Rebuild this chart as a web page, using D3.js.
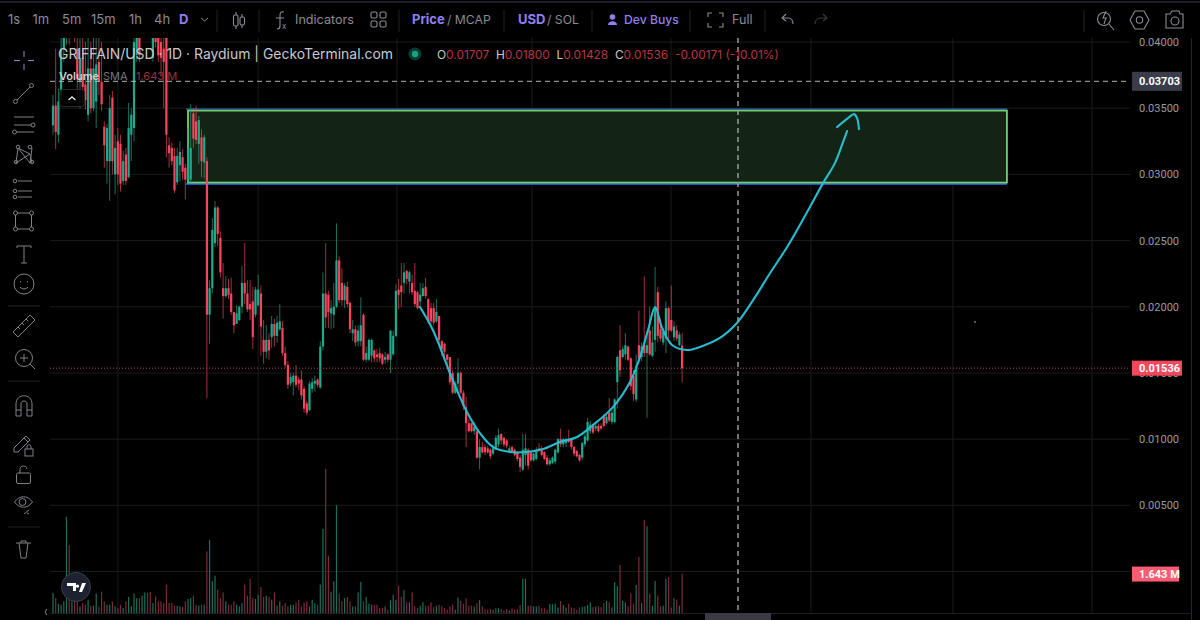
<!DOCTYPE html>
<html><head><meta charset="utf-8">
<script src="https://cdnjs.cloudflare.com/ajax/libs/d3/7.8.5/d3.min.js"></script>
<style>html,body{margin:0;padding:0;background:#000;overflow:hidden}svg{display:block}text{font-family:Inter,"Noto Sans",sans-serif}</style>
</head><body><svg id="c" width="1200" height="620"></svg>
<script>
// prices are in thousandths of a USD, volumes in millions
const opens=[33.7,35.2,33,36,39.5,41,43,41,43,39.5,
37,38.8,36.8,34.5,38,35,35.5,38.5,37,33.6,
31,31,35.8,30,32.5,32.3,29.5,31.5,29.8,33,
33.5,39,41,41.5,43,44.5,43.5,38.8,41,41,
40,39.5,41,32.2,32,31.4,29.4,30.7,31.3,30.5,
29.6,29.6,34.6,34,32.3,32.8,30.9,31,19.4,21.4,
24.8,27.5,25.2,21.4,20.8,21.4,21,19.6,18.7,19,
20,21.8,21,20.2,20.4,19.4,20.1,21,17.5,16.6,
17.5,17.7,18.7,17.8,18.3,18.4,16.5,15.6,14.2,14.3,
14.8,14.5,14.5,13.8,12.7,12.2,13.8,14.2,14.5,13.9,
17,21,20.9,19.5,19.4,20,23.5,21.8,20.5,21.5,
20.3,18,18.3,17.4,17.4,19.4,16,16,16.3,16.7,
16.4,16.5,16.4,16,16.4,16,16.4,17.8,21.3,21.6,
21.8,22.7,21.9,21.8,21.2,21.1,20.4,20.8,21.5,20.6,
19.9,19.9,18.9,19.3,17.4,17.2,16.4,16.2,15,13.5,
14.2,15,13.5,12.4,11.2,11.2,10.6,10.6,8.6,9.4,
9.4,9.3,9.2,8.9,9.2,9.6,10.4,10.1,9.9,9.1,
9.4,9.2,9,8.6,7.7,8.8,9.2,9,8.4,8.5,
9.3,9.2,9,8.6,8.1,8.2,8.3,9,10,9.6,
9.7,10,10,9.4,9.1,8.8,8.6,9.6,9.9,10.6,
11.1,10.8,11,11,11.7,11.2,12,11.3,11.3,14.3,
16.7,16.2,16.4,17,16.1,14.8,13,17.1,16.2,17.1,
16.5,18.2,16.3,17.5,21.1,18.3,17.3,17.6,19.9,19,
17.7,18.2,17.1,17.07];
const highs=[36,39.5,36.5,41,43,44,45,44,44,41,
41,41,40,40.5,40,41,40.5,41,40,34,
33.8,36,36.3,33,33.5,33,31.8,32,35.4,35,
41,43,42,44,45,46,45,42,42,42,
41.5,41.5,42,32.8,32.4,32,32,32.5,31.9,30.8,
33.5,35.3,35,35.2,34.4,33.4,33,31.3,22,26.7,
28,27.6,25.7,23.3,22.3,22.1,22.2,19.6,20.1,20.1,
23.1,24.8,22,22,21.5,21.5,22.4,21.6,19,18.6,
18,19.3,19.1,19.3,20.2,18.9,17,15.9,15,15,
15.6,14.7,15.2,14,12.9,14.4,14.6,14.8,14.6,17.4,
22.6,24.8,21.2,20.5,21.8,26.3,23.8,22.9,21.8,21.9,
20.4,19,18.6,18.6,20.7,19.5,17,17.6,17.6,16.8,
16.8,16.9,16.5,16.6,16.5,18.2,18.2,21.7,22.1,23.3,
23.3,22.8,22.7,22.4,23.3,21.2,21.8,21.8,22.2,20.6,
20.3,20.3,20.6,19.3,17.5,17.3,16.4,16.2,15.2,14.4,
16.1,15.1,13.7,13.2,11.5,11.2,11.3,10.6,10,9.8,
9.6,9.5,9.3,9.6,10.3,10.8,10.4,10.2,10,9.5,
9.5,9.3,9.1,8.8,10.4,10.4,9.3,9.1,9,9.4,
9.7,9.5,9.1,8.8,8.6,8.7,9.3,10.1,10.8,10.1,
10.1,10.7,10.1,9.5,9.2,8.9,9.8,10.4,11.6,11.4,
11.2,11.1,11.2,11.2,11.9,11.9,13.1,12.2,13.1,16.3,
18.6,17,18,17,16.2,15.2,16.4,19.7,17.3,22.3,
18.2,20,18.5,23,21.5,19.1,18.4,20.4,20,21.6,
18.9,18.6,18.1,18];
const lows=[33,31.9,32.4,35.6,38.5,39.8,39.8,40.5,40,36,
35,35.3,34.9,34,34.6,34.8,33.5,36,34.8,30.5,
29.3,28,30,28.5,29.2,28.7,29.2,29.2,29.7,31,
32.5,38.5,38.5,41,42.5,43,41,38.5,39.6,38.5,
37.5,35,31.3,30.5,30.7,28.6,29.2,29.5,29.6,28.1,
29.4,29.3,32,32.3,30.8,29.8,29.7,13.1,17.2,21,
24.5,24.6,22.2,19.1,20.7,20.6,19.4,18,18.7,18.9,
19.5,20.2,19.6,19,16.8,19.2,20.1,16.3,15.7,16.1,
16,16.9,17,17.3,18.2,16.3,15.4,13.8,14,13.3,
13.9,13.7,13,12,11.8,12.1,13.5,13.6,13.9,13.8,
16.7,18.4,18.4,18.3,18.4,19.9,20.3,20.1,19.9,20,
18,17.4,17,17,17,15.9,15.8,15.9,15.8,15.8,
15.8,15.8,15.6,15.7,15.8,15,16.3,17.7,19.8,20,
21,21.7,21,20.9,20,19.8,20,20.8,20.6,18.7,
18.7,18.6,18.8,17.2,16.3,16.2,15.5,14.1,13.4,13.4,
13.7,13.4,12.2,9.4,10.5,10.5,10.3,8.5,7.7,8.9,
8.8,8.9,8.5,8.8,9.2,9.4,9.6,9.4,9.3,9,
9,8.7,8.3,7.5,7.6,8,7.7,8.3,8.3,8.4,
9,8.7,8.4,8,8,8.1,8.1,8.9,9.4,9.4,
9.4,9.7,9.2,8.7,8.6,8.3,8.4,9.4,9.8,10.4,
10.4,10.6,10.5,10.7,10.9,11.1,11.3,11.1,11.2,12.3,
14.7,16.1,16,15.9,13.7,12.9,12.8,15.7,15.9,16.2,
11.6,16.3,16.2,16.6,17.3,17.4,17.1,16.5,17.5,18.1,
17.4,17.4,17,14.28];
const closes=[35.2,33.2,35.5,39.5,41,43,41,43,41.5,37.2,
38.8,36.6,35.6,38,35,38,38.3,37,35.3,32.2,
33.5,35,31,32,30,29.3,31,29.5,33.5,34.5,
40,41,39,43,44.5,43.5,41.5,41,40,39,
38.8,38.5,33,31.6,31,28.8,31.4,31.7,30.2,29.6,
32,32,32.7,32.6,34.1,31,32.8,19.4,21.4,25.8,
27.5,25.5,22.6,20.8,21.4,20.9,19.6,18.6,19.5,20,
21.8,21,19.8,19.8,17.7,21.3,21.3,18.5,16.6,17.5,
16.7,18.7,17.8,18.8,18.9,16.5,15.6,14.1,14.7,14.8,
14.1,14.2,13.3,12.3,12,14.2,14.3,14.4,14.1,17,
21,19.2,19.6,19.9,20,23.5,20.5,20.5,21.6,20.2,
18.3,18.3,17.3,18.2,18.6,16,16.5,17.5,17.5,16.1,
16.2,16.1,15.7,16.2,16,18.2,17.8,21.2,20.9,21.1,
22.6,22.1,22.6,21.1,20.2,19.9,20.9,21.4,20.8,18.9,
18.9,18.8,19.6,17.5,16.8,16.6,16,14.3,13.5,14.2,
15,13.5,12.5,11.2,10.6,10.6,10.9,8.6,9.4,9,
9,9,8.7,9.3,10.1,10.3,9.9,9.6,9.5,9.3,
9.1,8.8,8.5,7.9,9.2,9.3,8,8.4,8.9,9.2,
9.2,8.8,8.5,8.1,8.4,8.6,9.2,10,9.6,10,
10,9.8,9.4,8.9,8.7,8.4,9.7,10.2,11.3,11.1,
10.5,11,10.6,10.8,11,11.7,11.4,12,13,16.2,
15.2,16.8,17.1,16,14,13.4,15.5,16.1,17,16.5,
17.1,16.4,17.3,20,17.8,17.6,18.1,19.9,18.2,18.2,
18.5,17.6,17.9,15.36];
const volumes=[.85,.63,.39,.35,.49,4.06,2.86,.49,.63,.49,
.28,.42,.35,.56,.31,.31,.82,.28,.9,.49,
.35,.35,.49,.28,.21,.35,.21,.49,.68,.28,
.82,.63,.63,.73,.87,.85,.89,.42,.7,.49,
.49,.42,1.2,.42,.42,.31,.31,.28,.25,.49,
.59,.63,.73,.35,.31,.35,.35,2.6,3.07,1.34,
1.58,.99,.63,.87,.49,.35,.35,.49,.35,.28,
.42,1.2,.73,1.44,.63,.59,.77,1.1,.68,.73,
.68,.56,.87,.31,.49,.31,.42,.28,.35,.35,
.45,.56,.28,.45,.49,.28,.56,.42,.35,1.2,
3.55,6.08,2.42,.9,1.34,4.54,.82,.49,.63,.68,
.49,.28,.28,.87,1.32,.49,.68,.39,.35,.35,
.35,.21,.21,.28,.14,.54,.77,.56,1.15,.68,
.96,.45,.45,.87,.28,.21,.31,.45,.31,.31,
.45,.25,.31,.35,.28,.21,.14,.28,.35,.14,
.65,.51,.39,.62,.31,.31,.28,.42,.54,.28,
.17,.14,.17,.14,.2,.2,.17,.11,.17,.11,
.2,.14,.17,.34,1.44,1.44,.31,.31,.28,.28,
.31,.2,.2,.14,.39,.37,.39,.23,.51,.34,
.23,.39,.23,.2,.14,.23,.25,.28,.34,.45,
.25,.28,.28,.25,.42,.51,.45,.23,1.3,1.13,
2.03,.51,.45,.28,.82,.39,1.18,2.37,.42,3.92,
3.66,.82,.31,1.35,.73,.28,.31,1.44,1.52,.23,
.62,.56,.31,1.66];
const priceTicks=[0,5,10,15,20,25,30,35,40];
const timeGridBars=[24,76,127.4,177.4,228.9,280.7,333.3,384.8];
const curveBars=[135.9,140.7,147,149.6,153.3,158.1,163,169.3,175.6,181.5,187.8,194.1,200,207.4,213.7,217.4,220.4,223,225.6,229.3,234.8,239.6,247,253.3,259.3,265.6,271.9,279.3,285.2,289.6,292.6,294.1];
const curvePrices=[19.98,18.24,14.99,13.71,12.05,10.46,9.4,9.03,9.03,9.25,9.78,10.16,11.06,12.42,14.31,16.2,18.24,19.98,18.39,17.11,16.73,16.96,17.64,18.77,20.5,22.55,24.51,27.15,29.34,30.85,32.44,33.27];
const arrowBars=[290.4,294.4,296.7,297.8,298.5];
const arrowPrices=[33.57,34.25,34.55,34.25,33.42];
const zoneBars=[50,353.3], zonePrices=[29.38,34.82], zoneEdgePrices=[29.27,34.93];
const lastPrice=15.36, crossPrice=37.03, crossBar=253.7, lastVolume=1.643;
const periods=["1s","1m","5m","15m","1h","4h"];

const svg=d3.select("#c");
const defs=svg.append("defs");
defs.append("clipPath").attr("id","pane").append("rect").attr("x",50).attr("y",38).attr("width",1080).attr("height",575);
defs.append("clipPath").attr("id","axisclip").append("rect").attr("x",1130).attr("y",38).attr("width",62).attr("height",575);
svg.append("rect").attr("width",1200).attr("height",620).attr("fill","#000");

const x=d3.scaleLinear().domain([0,233]).range([53,682.1]);
const y=d3.scaleLinear().domain([0,40]).range([571.5,42]);
const yv=d3.scaleLinear().domain([0,6]).range([613,470.8]);
const UP="#1fa98c",DN="#f9455c",UPV="#1c6f5d",DNV="#7c2a3b";
const idx=d3.range(opens.length);
const pane=svg.append("g").attr("clip-path","url(#pane)");

// grid
pane.selectAll(".gh").data(priceTicks).join("line").attr("x1",50).attr("x2",1130).attr("y1",d=>y(d)).attr("y2",d=>y(d)).attr("stroke","#1b1b1b");
pane.selectAll(".gv").data(timeGridBars).join("line").attr("x1",d=>x(d)).attr("x2",d=>x(d)).attr("y1",38).attr("y2",613).attr("stroke","#1b1b1b");

// volume
pane.selectAll(".v").data(idx).join("rect").attr("x",i=>x(i)-.6).attr("width",1.2).attr("y",i=>yv(volumes[i])).attr("height",i=>yv(0)-yv(volumes[i]))
 .attr("fill",i=>closes[i]>=opens[i]?UPV:DNV);

// zone
const zx0=x(zoneBars[0]),zx1=x(zoneBars[1]);
pane.append("line").attr("x1",zx0-2).attr("x2",zx1).attr("y1",y(zoneEdgePrices[1])).attr("y2",y(zoneEdgePrices[1])).attr("stroke","#1d52a8").attr("stroke-width",1.5);
pane.append("line").attr("x1",zx0-2).attr("x2",zx1).attr("y1",y(zoneEdgePrices[0])).attr("y2",y(zoneEdgePrices[0])).attr("stroke","#1f55c8").attr("stroke-width",2);
pane.append("rect").attr("x",zx0).attr("width",zx1-zx0).attr("y",y(zonePrices[1])).attr("height",y(zonePrices[0])-y(zonePrices[1]))
 .attr("fill","#142414").attr("stroke","#74cf6e").attr("stroke-width",1.8);

// candles
const cg=pane.append("g").style("filter","blur(0.3px)");
cg.selectAll(".w").data(idx).join("line").attr("x1",i=>x(i)).attr("x2",i=>x(i)).attr("y1",i=>y(highs[i])).attr("y2",i=>y(lows[i]))
 .attr("stroke",i=>closes[i]>=opens[i]?UP:DN).attr("stroke-width",.9).attr("stroke-opacity",.75);
cg.selectAll(".b").data(idx).join("rect").attr("x",i=>x(i)-1.1).attr("width",2.2)
 .attr("y",i=>y(Math.max(opens[i],closes[i]))).attr("height",i=>Math.max(1,Math.abs(y(opens[i])-y(closes[i]))))
 .attr("fill",i=>closes[i]>=opens[i]?UP:DN);

// hand drawn curve
const line=d3.line().x(d=>x(d[0])).y(d=>y(d[1])).curve(d3.curveCatmullRom.alpha(.5));
pane.append("path").attr("d",line(d3.zip(curveBars,curvePrices))).attr("fill","none").attr("stroke","#26bdd0").attr("stroke-width",2.1).attr("stroke-linecap","round");
pane.append("path").attr("d",line(d3.zip(arrowBars,arrowPrices))).attr("fill","none").attr("stroke","#26bdd0").attr("stroke-width",2.1).attr("stroke-linecap","round");
svg.append("circle").attr("cx",975).attr("cy",322).attr("r",.8).attr("fill","#bbb");

// crosshair, last price
pane.append("line").attr("x1",50).attr("x2",1130).attr("y1",y(lastPrice)).attr("y2",y(lastPrice)).attr("stroke","#c0404f").attr("stroke-dasharray","1 2");
pane.append("line").attr("x1",50).attr("x2",1130).attr("y1",y(crossPrice)).attr("y2",y(crossPrice)).attr("stroke","#b5b5b5").attr("stroke-dasharray","5 4");
pane.append("line").attr("x1",x(crossBar)).attr("x2",x(crossBar)).attr("y1",38).attr("y2",610).attr("stroke","#9a9a9a").attr("stroke-width",1.5).attr("stroke-dasharray","5 4");

// axis
const ax=d3.axisRight(y).tickValues(priceTicks).tickSize(0).tickPadding(0).tickFormat(d=>(d/1000).toFixed(5));
const axg=svg.append("g").attr("clip-path","url(#axisclip)").append("g").attr("transform","translate(1139,0)").call(ax);
axg.select(".domain").remove();
axg.selectAll("text").attr("fill","#9b9b9b").attr("font-size",11).style("font-family","Roboto,sans-serif");

function tag(p,fill,txt,w,h,scale){const c=scale(p);
 svg.append("rect").attr("x",1132).attr("y",c-h/2).attr("width",w).attr("height",h).attr("fill",fill);
 svg.append("text").attr("x",1139).attr("y",c+4).attr("fill","#fff").attr("font-size",11).attr("font-weight",700).style("font-family","Roboto,sans-serif").text(txt);}
tag(crossPrice,"#3a3d49",(crossPrice/1000).toFixed(5),50,19,y);
tag(lastPrice,"#f4475d",(lastPrice/1000).toFixed(5),50,15,y);
tag(lastVolume,"#f55d70","1.643 M",47,15,yv);

// chrome lines
svg.append("line").attr("x1",0).attr("x2",1200).attr("y1",2).attr("y2",2).attr("stroke","#1d1d2b").attr("stroke-width",2);
svg.append("line").attr("x1",1191.5).attr("x2",1191.5).attr("y1",38).attr("y2",620).attr("stroke","#25252c");
svg.append("line").attr("x1",50).attr("x2",1192).attr("y1",613.5).attr("y2",613.5).attr("stroke","#1f1f24");
svg.append("rect").attr("x",705).attr("y",613).attr("width",66).attr("height",7).attr("fill","#3a3a46");

// header
const T=(x0,yy,t,fill,size,weight)=>svg.append("text").attr("x",x0).attr("y",yy).attr("fill",fill).attr("font-size",size).attr("font-weight",weight||400).text(t);
const G="#8b8b95",P="#8f7ff0";
const px=[8,32.5,62,91,129,154];
periods.forEach((p,i)=>T(px[i],24,p,G,13));
T(179,24,"D",P,13,700);
T(295,24,"Indicators",G,12.6);
T(412,24,"Price",P,13,700); T(447,24,"/ MCAP",G,12.2);
T(518,24,"USD",P,13,700); T(547,24,"/ SOL",G,12.2);
T(624,24,"Dev Buys",P,12.2,500);
T(732,24,"Full",G,12.6);
[217,259,399,504,592,690,765,1084].forEach(v=>svg.append("line").attr("x1",v).attr("x2",v).attr("y1",10).attr("y2",32).attr("stroke","#232329"));
const ic=svg.append("g").attr("fill","none").attr("stroke",G).attr("stroke-width",1.1);
ic.append("path").attr("d","M201 18l3.5 3 3.5-3").attr("stroke-width",1);
ic.append("path").attr("d","M236 12v3M236 26v3M242 14v3M242 25v3"); ic.append("rect").attr("x",233.5).attr("y",15).attr("width",4.5).attr("height",11).attr("rx",1.5); ic.append("rect").attr("x",240).attr("y",17).attr("width",4.5).attr("height",8).attr("rx",1.5);
ic.append("path").attr("d","M284 12c-3-1-4 1-4 3v11c0 2-1 3-3 3M276 18h8");
T(282,29,"x",G,8);
[[371,12],[380,12],[371,21],[380,21]].forEach(d=>ic.append("rect").attr("x",d[0]).attr("y",d[1]).attr("width",6).attr("height",6).attr("rx",1.5));
svg.append("circle").attr("cx",612.5).attr("cy",17).attr("r",2.8).attr("fill",P);
svg.append("path").attr("d","M608 25c0-5 9-5 9 0z").attr("fill",P);
ic.append("path").attr("d","M708 17v-4h4M719 13h4v4M723 23v4h-4M712 27h-4v-4");
ic.append("path").attr("d","M786 14l-4 4 4 3M782 18h6c4 0 5 3 5 6");
ic.append("path").attr("d","M823 14l4 4-4 3M827 18h-6c-4 0-6 3-6 6").attr("stroke","#3a3a40");
ic.append("circle").attr("cx",1104).attr("cy",19).attr("r",6.5); ic.append("path").attr("d","M1109 24l5 6M1106 11l-3 7h3l-2 6");
ic.append("path").attr("d","M1135 11h9l5 9-5 9h-9l-5-9z"); ic.append("circle").attr("cx",1139.5).attr("cy",20).attr("r",3.2);
ic.append("path").attr("d","M1166 14h4l2-3h7l1 3h3v14h-17z"); ic.append("circle").attr("cx",1175).attr("cy",21).attr("r",4);

// legend
svg.append("text").attr("x",58).attr("y",59).attr("fill","#c9c9cc").attr("font-size",13.95).text("GRIFFAIN/USD · 1D · Raydium | GeckoTerminal.com");
svg.append("circle").attr("cx",415).attr("cy",54).attr("r",6.5).attr("fill","#0b3a30");
svg.append("circle").attr("cx",415).attr("cy",54).attr("r",3.2).attr("fill","#12a383");
const RD="#b93544",WH="#c9c9cc";
const leg=svg.append("text").attr("x",437).attr("y",59).attr("font-size",11.9);
[["O",WH],["0.01707",RD],["  H",WH],["0.01800",RD],["  L",WH],["0.01428",RD],["  C",WH],["0.01536",RD],["  -0.00171 (-10.01%)",RD]].forEach(d=>leg.append("tspan").attr("fill",d[1]).style("white-space","pre").text(d[0]));
T(59,80,"Volume","#d0d0d0",11,600); T(103,80,"SMA","#777",11); T(136,80,"1.643 M","#9c3040",11);
svg.append("rect").attr("x",59.5).attr("y",89.5).attr("width",25).attr("height",17).attr("rx",3).attr("fill","#000").attr("fill-opacity",.8).attr("stroke","#2b2b2b");
svg.append("path").attr("d","M68.5 100l3.5-3 3.5 3").attr("fill","none").attr("stroke","#ddd").attr("stroke-width",1.4);

// left tool bar
const tb=svg.append("g").attr("fill","none").attr("stroke","#808086").attr("stroke-width",1);
tb.append("path").attr("d","M24 51v6M24 64v6M14 60.5h6M28 60.5h6").attr("stroke","#8f8fc8");
tb.append("path").attr("d","M17 100l13-13"); tb.append("circle").attr("cx",15.5).attr("cy",101.5).attr("r",2); tb.append("circle").attr("cx",31.5).attr("cy",85.5).attr("r",2);
tb.append("path").attr("d","M14 117h20M14 125h17M17 132h17"); tb.append("circle").attr("cx",33).attr("cy",125).attr("r",2); tb.append("circle").attr("cx",14.5).attr("cy",132).attr("r",2);
tb.append("path").attr("d","M16 163l2-15 12 15 2-15M16 163l14-9 2 9M18 148l12 6");["16,163","18,148","30,148","32,163"].forEach(s=>{const a=s.split(",");tb.append("circle").attr("cx",a[0]).attr("cy",a[1]-1).attr("r",1.8)});
tb.append("path").attr("d","M18 181h14M18 191h14M18 197h14");[[15,181],[15,191],[15,197]].forEach(d=>tb.append("circle").attr("cx",d[0]).attr("cy",d[1]).attr("r",1.8));
tb.append("rect").attr("x",15.5).attr("y",213).attr("width",16).attr("height",16);[[15.5,213],[31.5,213],[15.5,229],[31.5,229]].forEach(d=>tb.append("circle").attr("cx",d[0]).attr("cy",d[1]).attr("r",2).attr("fill","#000"));
tb.append("path").attr("d","M17 246h14M24 246v17M21 263h6M17 246v2M31 246v2");
tb.append("circle").attr("cx",24).attr("cy",284).attr("r",10); tb.append("path").attr("d","M20 287c2 2.5 6 2.5 8 0M20.5 281v1M27.5 281v1");
svg.append("line").attr("x1",8).attr("x2",40).attr("y1",306).attr("y2",306).attr("stroke","#222");
tb.append("path").attr("d","M13 332l17-17 5 5-17 17zM18 327l2 2M22 323l2 2M26 319l2 2");
tb.append("circle").attr("cx",24).attr("cy",358).attr("r",8.5); tb.append("path").attr("d","M30 364l5 5M20 358h8M24 354v8");
svg.append("line").attr("x1",8).attr("x2",40).attr("y1",381).attr("y2",381).attr("stroke","#222");
tb.append("path").attr("d","M16 416v-12c0-11 16-11 16 0v12h-5v-12c0-4-6-4-6 0v12zM16 410h5M27 410h5");
tb.append("path").attr("d","M14 448l12-12 4 4-12 12h-4zM24 438l4 4"); tb.append("rect").attr("x",25).attr("y",449).attr("width",8).attr("height",7); tb.append("path").attr("d","M27 449v-2c0-3 4-3 4 0v2");
tb.append("rect").attr("x",16.5).attr("y",473).attr("width",14).attr("height",10.5).attr("rx",1.5); tb.append("path").attr("d","M20 473v-4c0-4 7-4 7 0");
tb.append("path").attr("d","M14.5 502c5-7 13-7 18 0c-5 7-13 7-18 0z"); tb.append("circle").attr("cx",22.5).attr("cy",502).attr("r",3.5); tb.append("path").attr("d","M24 514l5-4M27 513l2 1");
svg.append("line").attr("x1",8).attr("x2",40).attr("y1",527).attr("y2",527).attr("stroke","#222");
tb.append("path").attr("d","M16 543h15M19 543l2 15h5l2-15M21 543v-2h5v2");

// logo
svg.append("circle").attr("cx",76).attr("cy",587).attr("r",14.5).attr("fill","#1d2231").attr("stroke","#3a3f4e");
svg.append("path").attr("d","M67 583h9v8h-3v-5h-6zM82 583h4l-4 9h-3zM77.5 584.5a1.6 1.6 0 1 0 .01 0z").attr("fill","#fff");
svg.append("path").attr("d","M47 609l-2 3 2 3").attr("fill","none").attr("stroke","#888");
</script></body></html>
